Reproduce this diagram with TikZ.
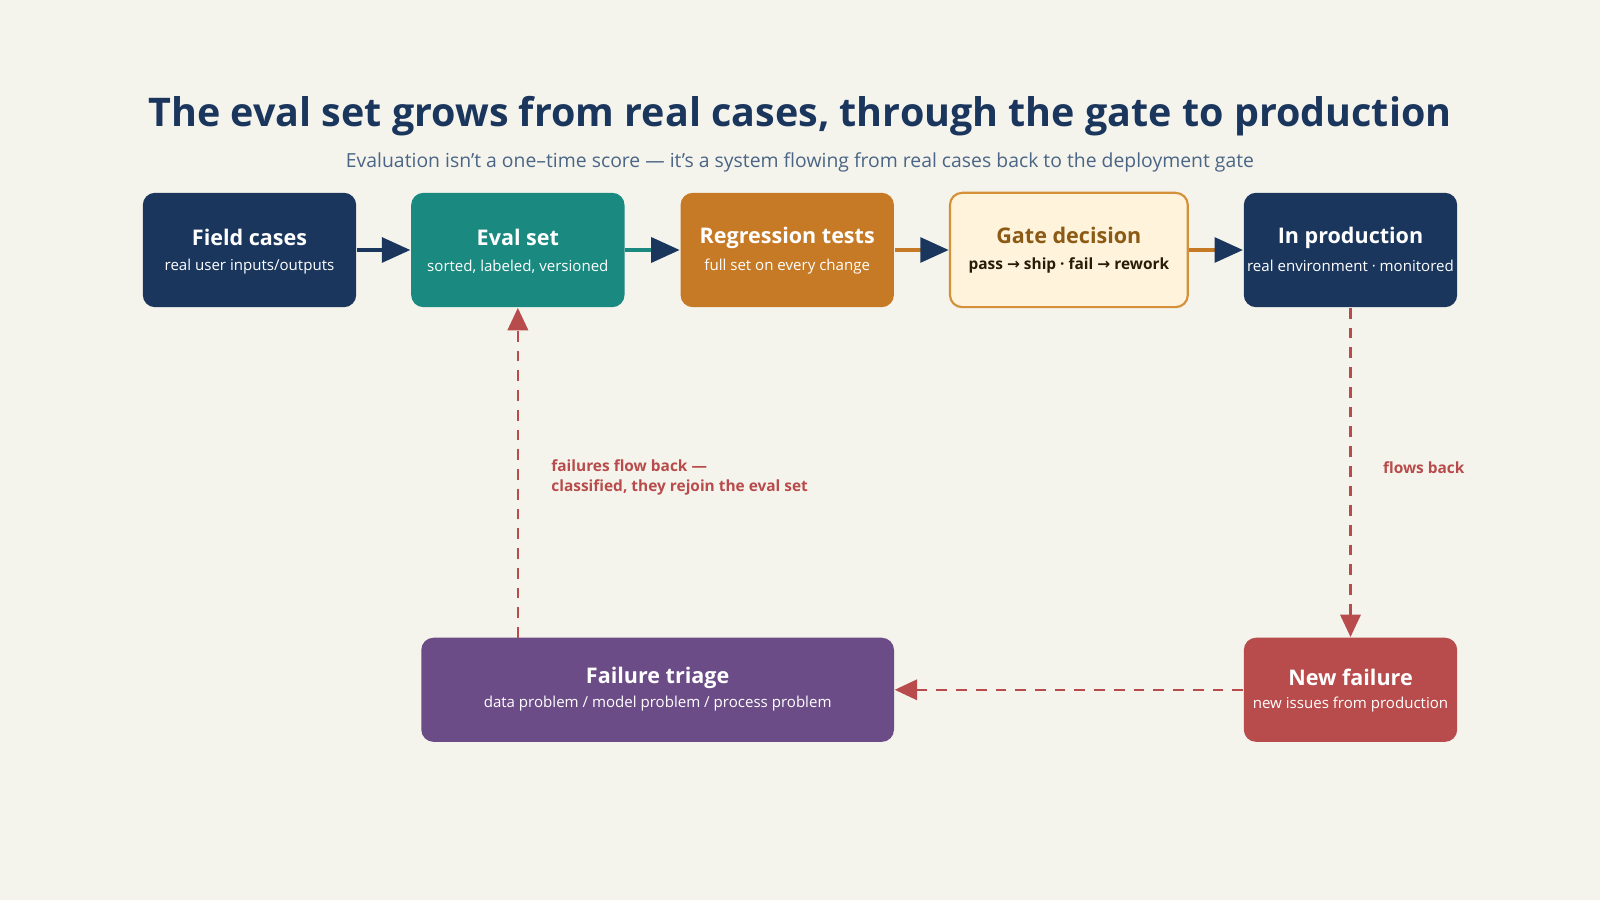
\documentclass[tikz,border=0pt]{standalone}
\usepackage{fontspec}
\setmainfont{Open Sans}
\newfontfamily\symf{DejaVu Sans}
\usetikzlibrary{arrows.meta}
\definecolor{bg}{HTML}{F5F4EC}
\definecolor{navy}{HTML}{1B365D}
\definecolor{teal}{HTML}{1A8A80}
\definecolor{orng}{HTML}{C77A25}
\definecolor{gatefill}{HTML}{FFF3DC}
\definecolor{gateline}{HTML}{D4913A}
\definecolor{gatetext}{HTML}{8B5A14}
\definecolor{purp}{HTML}{6B4C87}
\definecolor{redc}{HTML}{B84B4B}
\definecolor{subt}{HTML}{4A6585}
\begin{document}
\begin{tikzpicture}[x=0.01cm,y=-0.01cm,
 box/.style={rounded corners=0.12cm,minimum height=1.12cm,align=center,text=white,inner sep=0pt},
 ttl/.style={font=\fontsize{6.0}{7}\selectfont\bfseries},
 sub/.style={font=\fontsize{4.2}{5}\selectfont},
 tip/.style={-{Triangle[length=0.28cm,width=0.24cm]}},
 redflow/.style={redc,line width=0.7pt,dash pattern=on 3pt off 2.5pt,-{Triangle[length=0.22cm,width=0.2cm]}}]
\fill[bg] (0,0) rectangle (1568,882);
\useasboundingbox (0,0) rectangle (1568,882);
\node[text=navy,font=\fontsize{11}{13}\selectfont\bfseries] (title) at (784,114) {The eval set grows from real cases, through the gate to production};
\node[text=subt,font=\fontsize{5.4}{6}\selectfont] (subtitle) at (784,159) {Evaluation isn't a one–time score — it's a system flowing from real cases back to the deployment gate};
\node[box,fill=navy,minimum width=2.09cm] (field) at (244.5,245) {};
\node[ttl,text=white] at (244.5,233) {Field cases};
\node[sub,text=white] at (244.5,261) {real user inputs/outputs};
\node[box,fill=teal,minimum width=2.09cm] (eval) at (507.5,245) {};
\node[ttl,text=white] at (507.5,233) {Eval set};
\node[sub,text=white] at (507.5,261) {sorted, labeled, versioned};
\node[box,fill=orng,minimum width=2.09cm] (reg) at (771.5,245) {};
\node[ttl,text=white] at (771.5,233) {Regression tests};
\node[sub,text=white] at (771.5,261) {full set on every change};
\node[box,fill=gatefill,draw=gateline,line width=0.6pt,minimum width=2.33cm] (gate) at (1047.5,245) {};
\node[ttl,text=gatetext] at (1047.5,231) {Gate decision};
\node[sub,text=black!70!gatetext,font=\fontsize{4.3}{5}\selectfont\bfseries] at (1047.5,260) {pass {\symf →} ship · fail {\symf →} rework};
\node[box,fill=navy,minimum width=2.09cm] (prod) at (1323.5,245) {};
\node[ttl,text=white] at (1323.5,233) {In production};
\node[sub,text=white] at (1323.5,261) {real environment · monitored};
\node[box,fill=redc,minimum width=2.09cm,minimum height=1.02cm] (newf) at (1323.5,676) {};
\node[ttl,text=white] at (1323.5,664) {New failure};
\node[sub,text=white] at (1323.5,690) {new issues from production};
\node[box,fill=purp,minimum width=4.63cm,minimum height=1.02cm] (triage) at (644.5,676) {};
\node[ttl,text=white] at (644.5,664) {Failure triage};
\node[sub,text=white] at (644.5,690) {data problem / model problem / process problem};
\coordinate (m1) at (378,245);
\coordinate (m2) at (641,245);
\coordinate (m3) at (905,245);
\coordinate (m4) at (1193,245);
\draw[navy,line width=1.3pt] (field.east) -- (m1);
\draw[tip,navy,line width=1.3pt] (m1) -- (eval.west);
\draw[teal,line width=1.3pt] (eval.east) -- (m2);
\draw[tip,navy,line width=1.3pt] (m2) -- (reg.west);
\draw[orng,line width=1.3pt] (reg.east) -- (m3);
\draw[tip,navy,line width=1.3pt] (m3) -- (gate.west);
\draw[orng,line width=1.3pt] (gate.east) -- (m4);
\draw[tip,navy,line width=1.3pt] (m4) -- (prod.west);
\draw[redflow] (prod.south) -- (newf.north);
\draw[redflow] (newf.west) -- (triage.east);
\coordinate (tup) at (507.5,625);
\draw[redflow] (tup) -- (eval.south);
\node[anchor=west,text=redc,font=\fontsize{4.3}{5.6}\selectfont\bfseries,align=left] (lab1) at (528,468) {failures flow back —\\classified, they rejoin the eval set};
\node[anchor=west,text=redc,font=\fontsize{4.3}{5}\selectfont\bfseries] (lab2) at (1343,458) {flows back};
\end{tikzpicture}
\end{document}
